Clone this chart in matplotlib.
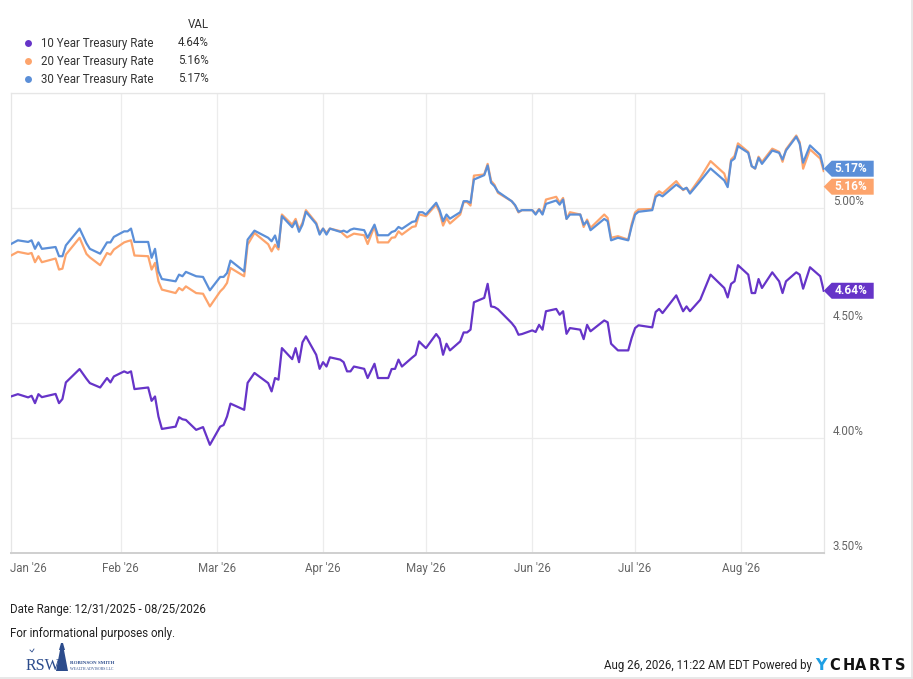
import numpy as np
import pandas as pd
import matplotlib
matplotlib.use("Agg")
import matplotlib.pyplot as plt
import matplotlib.dates as mdates
from matplotlib.lines import Line2D
from matplotlib.patches import Polygon
from matplotlib.transforms import IdentityTransform, ScaledTranslation

plt.rcParams['font.family'] = ['Roboto', 'DejaVu Sans']

# ---------------- data ----------------
dates = [
    "2025-12-31", "2026-01-02", "2026-01-05", "2026-01-06", "2026-01-07", "2026-01-08", "2026-01-09",
    "2026-01-13", "2026-01-14", "2026-01-15", "2026-01-16", "2026-01-20", "2026-01-22", "2026-01-23",
    "2026-01-26", "2026-01-28", "2026-01-29", "2026-01-30",
    "2026-02-02", "2026-02-03", "2026-02-04", "2026-02-05", "2026-02-09", "2026-02-10", "2026-02-11",
    "2026-02-12", "2026-02-13", "2026-02-17", "2026-02-18", "2026-02-19", "2026-02-20", "2026-02-23",
    "2026-02-25", "2026-02-27",
    "2026-03-02", "2026-03-03", "2026-03-04", "2026-03-05", "2026-03-09", "2026-03-10", "2026-03-12",
    "2026-03-16", "2026-03-17", "2026-03-18", "2026-03-19", "2026-03-20", "2026-03-23", "2026-03-24",
    "2026-03-25", "2026-03-26", "2026-03-27", "2026-03-30", "2026-03-31",
    "2026-04-01", "2026-04-02", "2026-04-03", "2026-04-06", "2026-04-07", "2026-04-08", "2026-04-09",
    "2026-04-10", "2026-04-13", "2026-04-14", "2026-04-16", "2026-04-17", "2026-04-20", "2026-04-21",
    "2026-04-22", "2026-04-23", "2026-04-24", "2026-04-27", "2026-04-28", "2026-04-29", "2026-04-30",
    "2026-05-01", "2026-05-04", "2026-05-05", "2026-05-06", "2026-05-07", "2026-05-08", "2026-05-11",
    "2026-05-12", "2026-05-13", "2026-05-14", "2026-05-15", "2026-05-18", "2026-05-19", "2026-05-20",
    "2026-05-21", "2026-05-22", "2026-05-26", "2026-05-27", "2026-05-28", "2026-05-29",
    "2026-06-01", "2026-06-02", "2026-06-03", "2026-06-04", "2026-06-05", "2026-06-08", "2026-06-09",
    "2026-06-10", "2026-06-11", "2026-06-12", "2026-06-15", "2026-06-16", "2026-06-17", "2026-06-18",
    "2026-06-22", "2026-06-23", "2026-06-24", "2026-06-26", "2026-06-29", "2026-06-30",
    "2026-07-01", "2026-07-02", "2026-07-06", "2026-07-07", "2026-07-08", "2026-07-09", "2026-07-13",
    "2026-07-15", "2026-07-16", "2026-07-17", "2026-07-20", "2026-07-23", "2026-07-27", "2026-07-28",
    "2026-07-29", "2026-07-30", "2026-07-31",
    "2026-08-03", "2026-08-04", "2026-08-05", "2026-08-06", "2026-08-07", "2026-08-10", "2026-08-12",
    "2026-08-13", "2026-08-14", "2026-08-17", "2026-08-18", "2026-08-19", "2026-08-21", "2026-08-24",
    "2026-08-25",
]

rate_10y = [
    4.181, 4.191, 4.177, 4.184, 4.152, 4.191, 4.178, 4.192, 4.152, 4.170, 4.242, 4.300, 4.258, 4.239, 4.220, 4.261, 4.242, 4.268,
    4.290, 4.283, 4.290, 4.213, 4.220, 4.162, 4.181, 4.094, 4.040, 4.050, 4.091, 4.082, 4.079, 4.036, 4.048, 3.971,
    4.050, 4.057, 4.094, 4.150, 4.123, 4.240, 4.283, 4.239, 4.203, 4.261, 4.254, 4.391, 4.343, 4.391, 4.330, 4.416, 4.442, 4.362, 4.301,
    4.330, 4.311, 4.351, 4.341, 4.330, 4.290, 4.290, 4.311, 4.301, 4.261, 4.323, 4.261, 4.261, 4.300, 4.301, 4.341, 4.311, 4.350, 4.362, 4.420, 4.405,
    4.391, 4.452, 4.432, 4.362, 4.410, 4.381, 4.420, 4.459, 4.459, 4.471, 4.590, 4.609, 4.670, 4.572, 4.569, 4.560, 4.500, 4.481, 4.449, 4.452,
    4.468, 4.461, 4.492, 4.471, 4.551, 4.561, 4.536, 4.551, 4.453, 4.478, 4.471, 4.430, 4.492, 4.464, 4.511, 4.503, 4.410, 4.381, 4.381, 4.435,
    4.478, 4.490, 4.481, 4.548, 4.561, 4.543, 4.620, 4.551, 4.572, 4.551, 4.601, 4.710, 4.652, 4.611, 4.670, 4.681, 4.751,
    4.710, 4.630, 4.630, 4.691, 4.652, 4.720, 4.681, 4.630, 4.681, 4.720, 4.710, 4.649, 4.742, 4.703, 4.64,
]

rate_20y = [
    4.793, 4.809, 4.800, 4.804, 4.764, 4.790, 4.764, 4.780, 4.732, 4.736, 4.797, 4.870, 4.800, 4.785, 4.751, 4.804, 4.797, 4.819,
    4.850, 4.855, 4.859, 4.793, 4.790, 4.732, 4.761, 4.681, 4.645, 4.630, 4.652, 4.642, 4.659, 4.630, 4.627, 4.572,
    4.637, 4.652, 4.674, 4.739, 4.703, 4.840, 4.891, 4.842, 4.811, 4.840, 4.819, 4.971, 4.927, 4.952, 4.906, 4.935, 4.990, 4.935, 4.891,
    4.910, 4.891, 4.910, 4.899, 4.885, 4.872, 4.880, 4.888, 4.881, 4.843, 4.920, 4.850, 4.850, 4.870, 4.872, 4.898, 4.884, 4.917, 4.920, 4.971, 4.968,
    4.964, 5.014, 4.980, 4.923, 4.956, 4.932, 4.971, 5.025, 5.025, 5.010, 5.140, 5.145, 5.191, 5.117, 5.100, 5.065, 5.029, 5.010, 4.980, 4.990,
    4.990, 4.975, 4.995, 4.975, 5.036, 5.048, 5.022, 5.043, 4.952, 4.981, 4.971, 4.917, 4.949, 4.913, 4.971, 4.956, 4.870, 4.877, 4.862, 4.930,
    4.980, 4.993, 4.995, 5.058, 5.072, 5.062, 5.116, 5.077, 5.087, 5.067, 5.130, 5.203, 5.149, 5.101, 5.210, 5.225, 5.280,
    5.243, 5.181, 5.170, 5.222, 5.199, 5.257, 5.243, 5.200, 5.254, 5.314, 5.285, 5.170, 5.254, 5.214, 5.16,
]

rate_30y = [
    4.843, 4.859, 4.852, 4.859, 4.822, 4.850, 4.822, 4.830, 4.790, 4.790, 4.837, 4.910, 4.846, 4.822, 4.801, 4.850, 4.850, 4.874,
    4.898, 4.898, 4.910, 4.852, 4.852, 4.783, 4.822, 4.724, 4.691, 4.681, 4.710, 4.703, 4.722, 4.703, 4.700, 4.642,
    4.700, 4.700, 4.717, 4.771, 4.724, 4.862, 4.901, 4.870, 4.855, 4.880, 4.830, 4.964, 4.916, 4.942, 4.896, 4.927, 4.983, 4.930, 4.884,
    4.910, 4.884, 4.910, 4.896, 4.901, 4.894, 4.905, 4.910, 4.903, 4.870, 4.927, 4.881, 4.881, 4.895, 4.900, 4.917, 4.909, 4.939, 4.942, 4.981, 4.981,
    4.971, 5.022, 4.990, 4.942, 4.971, 4.953, 4.981, 5.029, 5.029, 5.022, 5.123, 5.142, 5.184, 5.109, 5.094, 5.070, 5.029, 5.012, 4.983, 4.990,
    4.990, 4.971, 4.993, 4.971, 5.017, 5.032, 5.014, 5.036, 4.952, 4.971, 4.971, 4.927, 4.942, 4.903, 4.952, 4.942, 4.859, 4.870, 4.859, 4.920,
    4.971, 4.983, 4.990, 5.048, 5.058, 5.050, 5.101, 5.080, 5.087, 5.062, 5.116, 5.171, 5.119, 5.090, 5.203, 5.214, 5.268,
    5.239, 5.181, 5.171, 5.217, 5.191, 5.249, 5.239, 5.210, 5.249, 5.309, 5.278, 5.196, 5.271, 5.229, 5.17,
]

series_names = ["10 Year Treasury Rate", "20 Year Treasury Rate", "30 Year Treasury Rate"]
series_vals = ["4.64%", "5.16%", "5.17%"]
series_colors = ["#6634c8", "#fda46c", "#5b8fd8"]

y_ticks = [3.5, 4.0, 4.5, 5.0]
month_ticks = ["2026-01-01", "2026-02-01", "2026-03-01", "2026-04-01", "2026-05-01",
               "2026-06-01", "2026-07-01", "2026-08-01"]
month_labels = ["Jan '26", "Feb '26", "Mar '26", "Apr '26", "May '26", "Jun '26", "Jul '26", "Aug '26"]

# ---------------- figure ----------------
W, H = 913, 679
fig = plt.figure(figsize=(W / 100, H / 100), dpi=100)
fig.patch.set_facecolor("white")

def fx(px):
    return px / W

def fy(py):
    return 1 - py / H

ax = fig.add_axes([fx(11), fy(553.3), (823.7 - 11) / W, (553.3 - 92.7) / H])
ax.set_facecolor("white")

d = pd.to_datetime(dates)
ax.set_xlim(pd.Timestamp("2025-12-31"), pd.Timestamp("2026-08-25"))
ax.set_ylim(3.5, 5.5)

# gridlines
for m in month_ticks[1:]:
    ax.axvline(pd.Timestamp(m), color="#ececec", lw=0.9, zorder=0)
for v in y_ticks + [5.5]:
    ax.axhline(v, color="#ececec", lw=0.9, zorder=0)

ax.plot(d, rate_10y, color=series_colors[0], lw=1.6, zorder=3, solid_joinstyle="round")
ax.plot(d, rate_20y, color=series_colors[1], lw=1.6, zorder=3, solid_joinstyle="round")
ax.plot(d, rate_30y, color=series_colors[2], lw=1.6, zorder=4, solid_joinstyle="round")

for s in ["left", "right", "top"]:
    ax.spines[s].set_color("#e6e6e6")
    ax.spines[s].set_linewidth(0.9)
ax.spines["bottom"].set_color("#cfcfcf")
ax.spines["bottom"].set_linewidth(1.4)

ax.set_yticks(y_ticks)
ax.set_yticklabels([f"{v:.2f}%" for v in y_ticks])
ax.tick_params(axis="y", left=False, right=False, labelleft=False, labelright=True,
               pad=6.5, labelsize=8.3, labelcolor="#666666", length=0)
for lab in ax.get_yticklabels():
    lab.set_va("bottom")

ax.set_xticks(pd.to_datetime(month_ticks))
ax.set_xticklabels(month_labels)
ax.tick_params(axis="x", length=0, pad=6, labelsize=8.3, labelcolor="#666666")
first = ax.get_xticklabels()[0]
first.set_ha("left")
first.set_transform(first.get_transform() + ScaledTranslation(-4 / 100, 0, fig.dpi_scale_trans))

# ---------------- value tags ----------------
fig.canvas.draw()
last_vals = [rate_10y[-1], rate_20y[-1], rate_30y[-1]]
x_edge = ax.transData.transform((mdates.date2num(d[-1]), 0))[0]
ys = [ax.transData.transform((0, v))[1] for v in last_vals]
order = np.argsort(ys)[::-1]
placed = {}
prev = None
for i in order:
    yc = ys[i]
    if prev is not None and prev - yc < 18:
        yc = prev - 18
    placed[i] = yc
    prev = yc
for i in range(3):
    yc = placed[i]
    hh = 8
    poly = Polygon([(x_edge, yc), (x_edge + 8, yc + hh),
                    (x_edge + 50, yc + hh), (x_edge + 50, yc - hh), (x_edge + 8, yc - hh)],
                   closed=True, facecolor=series_colors[i], edgecolor="none",
                   transform=IdentityTransform(), zorder=5)
    fig.add_artist(poly)
    fig.text((x_edge + 27) / W, yc / H, series_vals[i], color="white", fontsize=8.6,
             fontweight="bold", ha="center", va="center", zorder=6)

# ---------------- legend ----------------
fig.text(fx(209), fy(24), "VAL", ha="right", va="center", fontsize=8.3, color="#333333")
for i, (name, val, col) in enumerate(zip(series_names, series_vals, series_colors)):
    yy = 43 + i * 18
    fig.add_artist(Line2D([fx(28)], [fy(yy)], marker="o", markersize=5, color=col,
                          markeredgewidth=0, transform=fig.transFigure))
    fig.text(fx(41), fy(yy), name, ha="left", va="center", fontsize=8.3, color="#333333")
    fig.text(fx(209), fy(yy), val, ha="right", va="center", fontsize=8.3, color="#333333")

# ---------------- footer ----------------
fig.text(fx(10), fy(609), "Date Range: 12/31/2025 - 08/25/2026", ha="left", va="center",
         fontsize=8.3, color="#222222")
fig.text(fx(10), fy(633), "For informational purposes only.", ha="left", va="center",
         fontsize=8.3, color="#222222")
fig.text(fx(812), fy(665), "Aug 26, 2026, 11:22 AM EDT Powered by", ha="right", va="center",
         fontsize=8.3, color="#222222")
fig.text(fx(815), fy(665), "Y", ha="left", va="center", fontsize=11.5, fontweight="bold",
         color="#1e9fe4", family="DejaVu Sans")
for k, ch in enumerate("CHARTS"):
    fig.text(fx(829 + k * 13.2), fy(665), ch, ha="left", va="center", fontsize=10.5,
             fontweight="bold", color="#111111", family="DejaVu Sans")

# logo
navy = "#2c4c8c"
fig.text(fx(26), fy(670.5), "RSW", ha="left", va="baseline", fontsize=11.5, color=navy,
         family="Liberation Serif")
lh = Polygon([[fx(56), fy(671)], [fx(60), fy(650)], [fx(59), fy(650)], [fx(61), fy(643)],
              [fx(63), fy(643)], [fx(65), fy(650)], [fx(64), fy(650)], [fx(68), fy(671)]],
             closed=True, facecolor=navy, edgecolor="none", transform=fig.transFigure)
fig.add_artist(lh)
fig.text(fx(70), fy(663), "ROBINSON SMITH", ha="left", va="center", fontsize=3.6,
         color=navy, family="Liberation Serif", fontweight="bold")
fig.text(fx(70), fy(668.5), "WEALTH ADVISORS LLC", ha="left", va="center", fontsize=2.8,
         color=navy, family="Liberation Serif")
fig.add_artist(Line2D([fx(30), fx(32), fx(34)], [fy(650), fy(652), fy(649)], color=navy,
                      lw=0.6, transform=fig.transFigure))

# outer border
fig.add_artist(Line2D([0, 1], [fy(677.5), fy(677.5)], color="#e4e4e4", lw=1.2,
                      transform=fig.transFigure))
fig.add_artist(Line2D([fx(911.5), fx(911.5)], [fy(677.5), 1], color="#e4e4e4", lw=1.2,
                      transform=fig.transFigure))

fig.savefig("out.png", dpi=100, facecolor="white")
